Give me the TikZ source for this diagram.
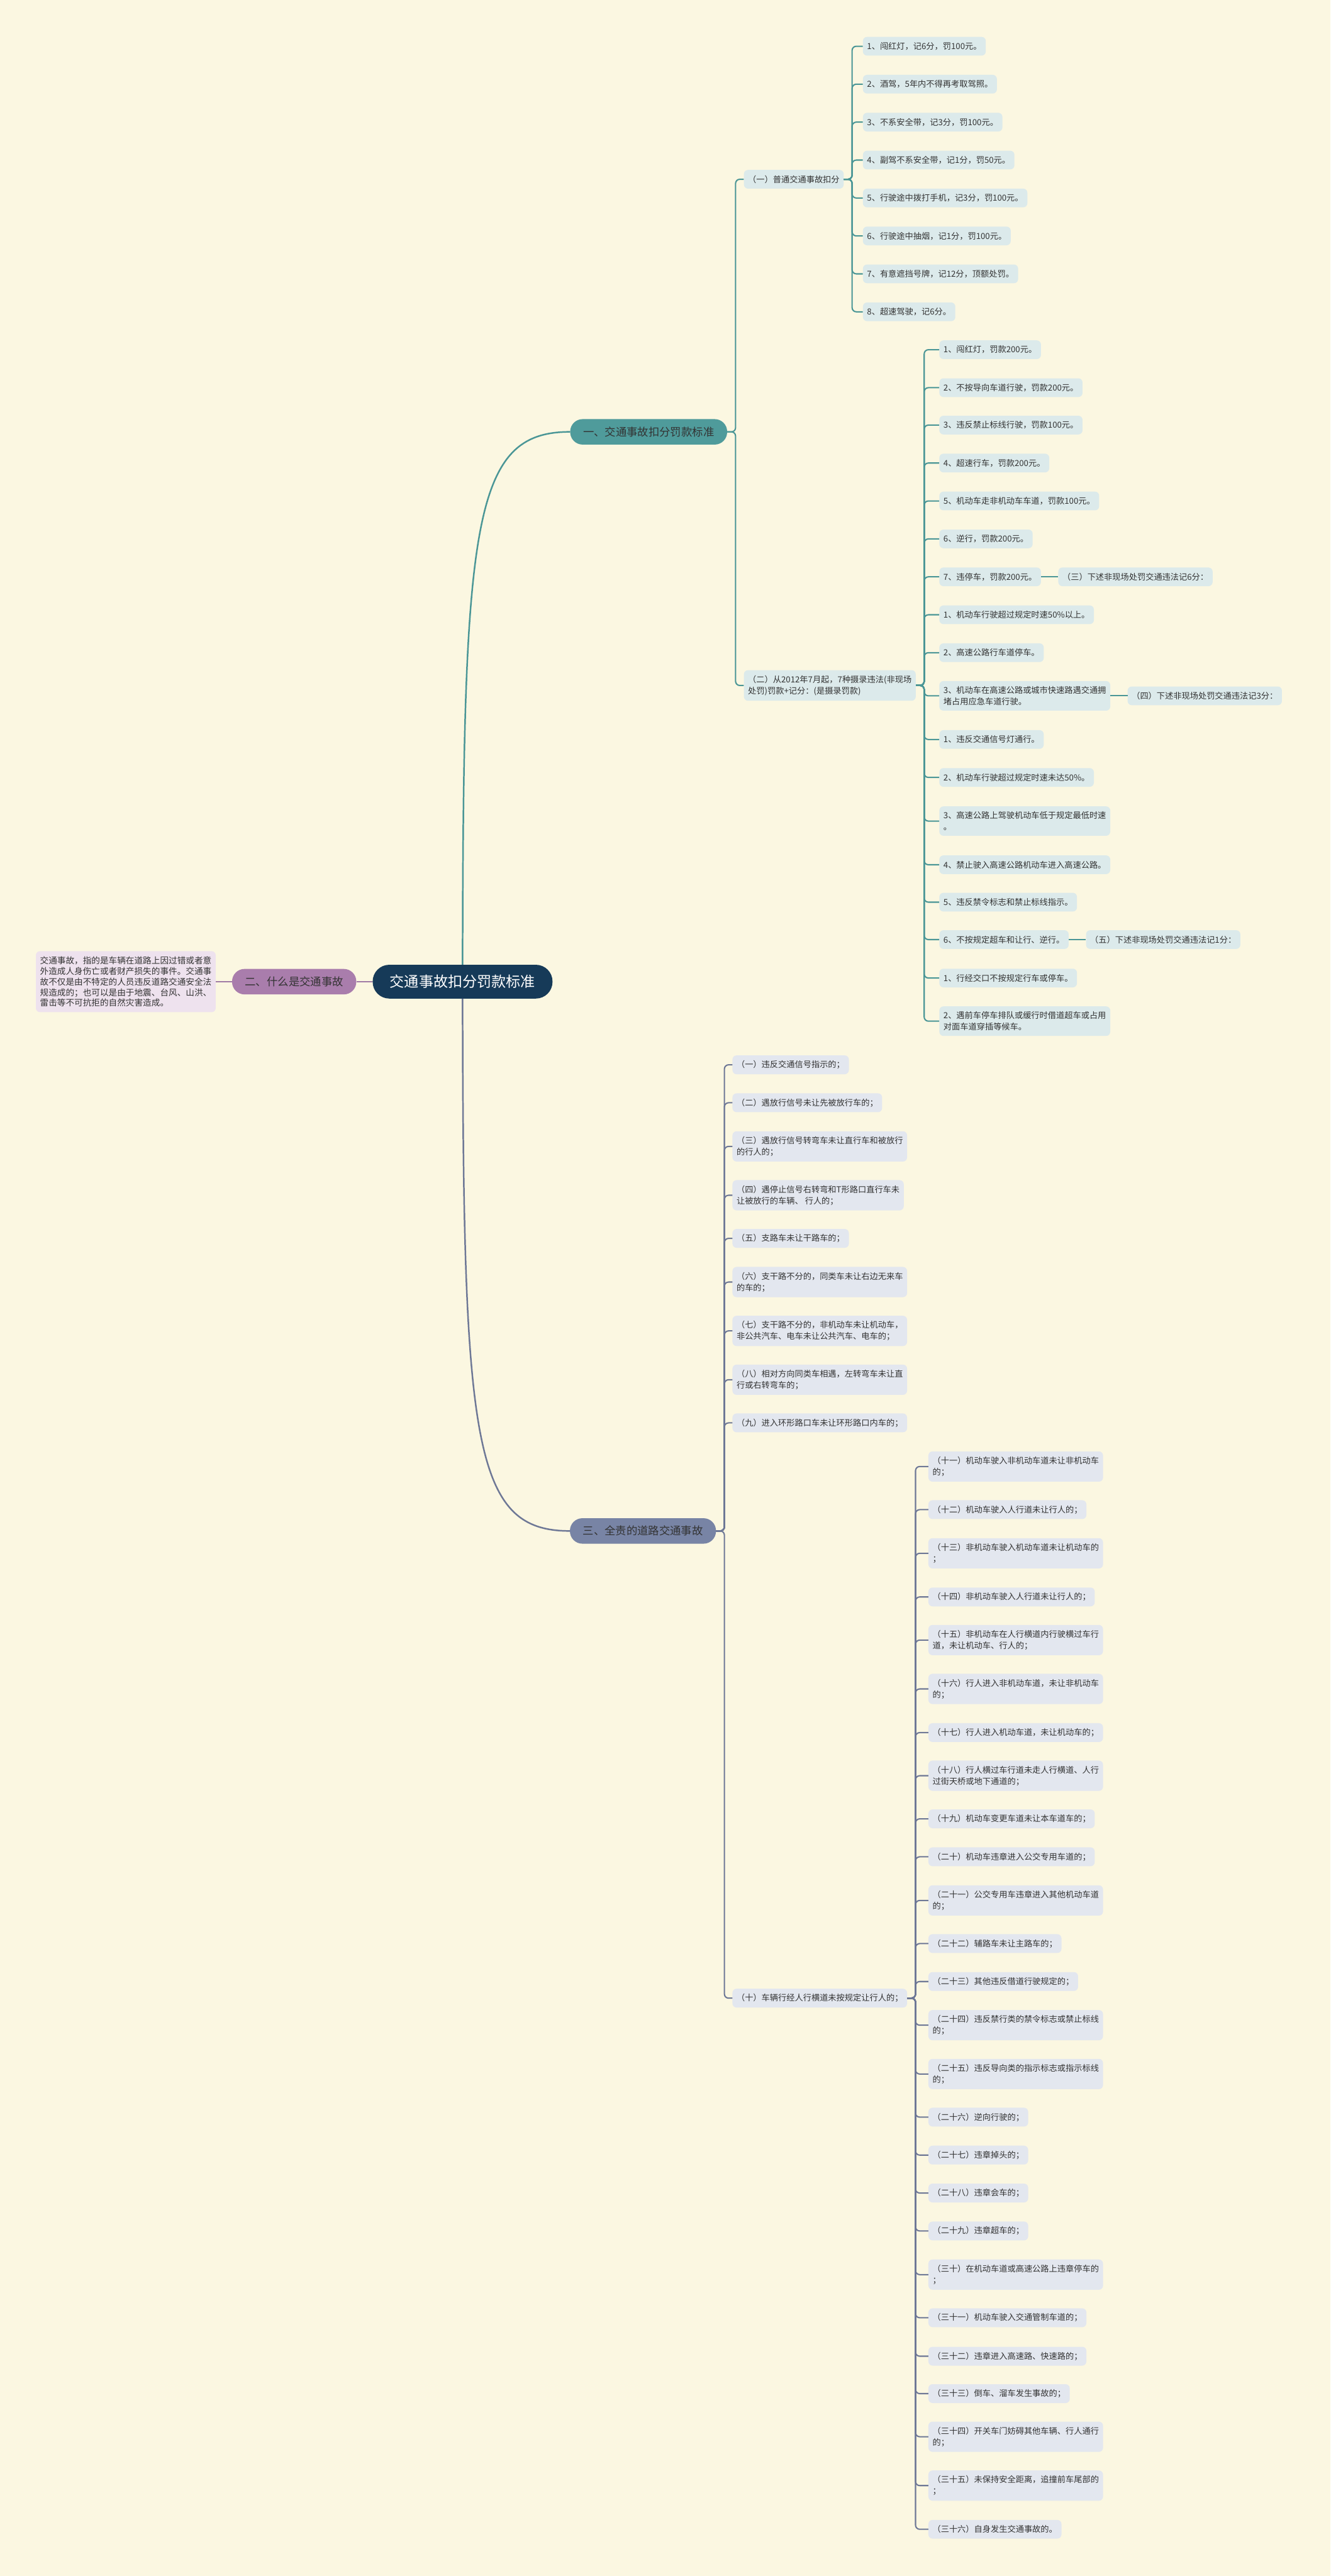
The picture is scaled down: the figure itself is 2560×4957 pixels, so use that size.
\documentclass[tikz,border=0pt]{standalone}
\usepackage{fontspec}
\setmainfont{Noto Sans CJK SC}
\usetikzlibrary{positioning}

\definecolor{bgcream}{HTML}{FBF7E1}
\definecolor{rootblue}{HTML}{163A58}
\definecolor{tealfill}{HTML}{4F9B9B}
\definecolor{tealline}{HTML}{4A9696}
\definecolor{leafteal}{HTML}{DCEAEB}
\definecolor{purplefill}{HTML}{A97DAC}
\definecolor{purpleline}{HTML}{A07AA5}
\definecolor{notepink}{HTML}{EEE2EE}
\definecolor{slatefill}{HTML}{7884A5}
\definecolor{slateline}{HTML}{6E7896}
\definecolor{leafslate}{HTML}{E3E7EF}
\definecolor{textgray}{HTML}{333333}

\tikzset{
  rootbox/.style={fill=rootblue, text=white, rounded corners=32pt, inner xsep=33pt, minimum height=65pt, font=\fontsize{28}{32}\selectfont},
  branchbox/.style={rounded corners=24pt, inner xsep=25pt, minimum height=49pt, text=textgray, font=\fontsize{21}{25}\selectfont},
  leafbox/.style={rounded corners=8pt, inner xsep=8pt, inner ysep=10pt, minimum height=36pt, text=textgray, align=left, font=\fontsize{16}{22}\selectfont},
  leafA/.style={leafbox, fill=leafteal, anchor=west},
  leafC/.style={leafbox, fill=leafslate, anchor=west},
  notebox/.style={leafbox, fill=notepink, font=\fontsize{16.5}{20.5}\selectfont},
  mainA/.style={draw=tealline, line width=3pt},
  mainB/.style={draw=purpleline, line width=3pt},
  mainC/.style={draw=slateline, line width=3pt},
  lineA/.style={draw=tealline, line width=2.5pt, rounded corners=8pt},
  lineC/.style={draw=slateline, line width=2.5pt, rounded corners=8pt}
}

\begin{document}
\begin{tikzpicture}[x=1pt, y=-1pt]
	% Fondo
	\fill[bgcream] (0,0) rectangle (2560,4957);
	\useasboundingbox (0,0) rectangle (2560,4957);
	
	% Nodo raiz y ramas principales
	\node[rootbox] (root) at (890,1889) {交通事故扣分罚款标准};
	\node[branchbox, fill=tealfill] (yi) at (1248,831) {一、交通事故扣分罚款标准};
	\node[branchbox, fill=purplefill] (er) at (566,1889) {二、什么是交通事故};
	\node[branchbox, fill=slatefill] (san) at (1237,2946) {三、全责的道路交通事故};
	\node[notebox] (note) at (242,1889) {交通事故，指的是车辆在道路上因过错或者意\\外造成人身伤亡或者财产损失的事件。交通事\\故不仅是由不特定的人员违反道路交通安全法\\规造成的；也可以是由于地震、台风、山洪、\\雷击等不可抗拒的自然灾害造成。};
	
	\draw[mainA] (root.north) .. controls (891,1000) and (910,831) .. (yi.west);
	\draw[mainC] (root.south) .. controls (891,2780) and (910,2946) .. (san.west);
	\draw[mainB] (root.west) -- (er.east);
	\draw[mainB] (er.west) -- (note.east);
	
	% Rama uno
	\node[leafA] (yiA) at (1431,345) {（一）普通交通事故扣分};
	\node[leafA] (yiB) at (1431,1319) {（二）从2012年7月起，7种摄录违法(非现场\\处罚)罚款+记分：(是摄录罚款)};
	
	\node[leafA] (a1) at (1660,89) {1、闯红灯，记6分，罚100元。};
	\node[leafA] (a2) at (1660,162) {2、酒驾，5年内不得再考取驾照。};
	\node[leafA] (a3) at (1660,235) {3、不系安全带，记3分，罚100元。};
	\node[leafA] (a4) at (1660,308) {4、副驾不系安全带，记1分，罚50元。};
	\node[leafA] (a5) at (1660,381) {5、行驶途中拨打手机，记3分，罚100元。};
	\node[leafA] (a6) at (1660,454) {6、行驶途中抽烟，记1分，罚100元。};
	\node[leafA] (a7) at (1660,527) {7、有意遮挡号牌，记12分，顶额处罚。};
	\node[leafA] (a8) at (1660,600) {8、超速驾驶，记6分。};
	
	\node[leafA] (b1) at (1807,673) {1、闯红灯，罚款200元。};
	\node[leafA] (b2) at (1807,746) {2、不按导向车道行驶，罚款200元。};
	\node[leafA] (b3) at (1807,818) {3、违反禁止标线行驶，罚款100元。};
	\node[leafA] (b4) at (1807,891) {4、超速行车，罚款200元。};
	\node[leafA] (b5) at (1807,964) {5、机动车走非机动车车道，罚款100元。};
	\node[leafA] (b6) at (1807,1037) {6、逆行，罚款200元。};
	\node[leafA] (b7) at (1807,1110) {7、违停车，罚款200元。};
	\node[leafA] (b8) at (1807,1183) {1、机动车行驶超过规定时速50\%以上。};
	\node[leafA] (b9) at (1807,1256) {2、高速公路行车道停车。};
	\node[leafA] (b10) at (1807,1339) {3、机动车在高速公路或城市快速路遇交通拥\\堵占用应急车道行驶。};
	\node[leafA] (b11) at (1807,1423) {1、违反交通信号灯通行。};
	\node[leafA] (b12) at (1807,1496) {2、机动车行驶超过规定时速未达50\%。};
	\node[leafA] (b13) at (1807,1580) {3、高速公路上驾驶机动车低于规定最低时速\\。};
	\node[leafA] (b14) at (1807,1664) {4、禁止驶入高速公路机动车进入高速公路。};
	\node[leafA] (b15) at (1807,1736) {5、违反禁令标志和禁止标线指示。};
	\node[leafA] (b16) at (1807,1808) {6、不按规定超车和让行、逆行。};
	\node[leafA] (b17) at (1807,1882) {1、行经交口不按规定行车或停车。};
	\node[leafA] (b18) at (1807,1965) {2、遇前车停车排队或缓行时借道超车或占用\\对面车道穿插等候车。};
	
	\node[leafA, right=33pt of b7] (bx3) {（三）下述非现场处罚交通违法记6分：};
	\node[leafA, right=33pt of b10] (bx4) {（四）下述非现场处罚交通违法记3分：};
	\node[leafA, right=33pt of b16] (bx5) {（五）下述非现场处罚交通违法记1分：};
	
	\foreach \c in {yiA,yiB} \draw[lineA] (yi.east) -- ++(16,0) |- (\c.west);
	\foreach \c in {a1,a2,a3,a4,a5,a6,a7,a8} \draw[lineA] (yiA.east) -- ++(16,0) |- (\c.west);
	\foreach \c in {b1,b2,b3,b4,b5,b6,b7,b8,b9,b10,b11,b12,b13,b14,b15,b16,b17,b18} \draw[lineA] (yiB.east) -- ++(16,0) |- (\c.west);
	\draw[lineA] (b7.east) -- (bx3.west);
	\draw[lineA] (b10.east) -- (bx4.west);
	\draw[lineA] (b16.east) -- (bx5.west);
	
	% Rama tres
	\node[leafC] (s1) at (1409,2049) {（一）违反交通信号指示的；};
	\node[leafC] (s2) at (1409,2122) {（二）遇放行信号未让先被放行车的；};
	\node[leafC] (s3) at (1409,2206) {（三）遇放行信号转弯车未让直行车和被放行\\的行人的；};
	\node[leafC] (s4) at (1409,2300) {（四）遇停止信号右转弯和T形路口直行车未\\让被放行的车辆、 行人的；};
	\node[leafC] (s5) at (1409,2383) {（五）支路车未让干路车的；};
	\node[leafC] (s6) at (1409,2467) {（六）支干路不分的，同类车未让右边无来车\\的车的；};
	\node[leafC] (s7) at (1409,2561) {（七）支干路不分的，非机动车未让机动车，\\非公共汽车、电车未让公共汽车、电车的；};
	\node[leafC] (s8) at (1409,2655) {（八）相对方向同类车相遇，左转弯车未让直\\行或右转弯车的；};
	\node[leafC] (s9) at (1409,2738) {（九）进入环形路口车未让环形路口内车的；};
	\node[leafC] (s10) at (1409,3845) {（十）车辆行经人行横道未按规定让行人的；};
	
	\node[leafC] (t11) at (1786,2822) {（十一）机动车驶入非机动车道未让非机动车\\的；};
	\node[leafC] (t12) at (1786,2905) {（十二）机动车驶入人行道未让行人的；};
	\node[leafC] (t13) at (1786,2989) {（十三）非机动车驶入机动车道未让机动车的\\；};
	\node[leafC] (t14) at (1786,3073) {（十四）非机动车驶入人行道未让行人的；};
	\node[leafC] (t15) at (1786,3156) {（十五）非机动车在人行横道内行驶横过车行\\道，未让机动车、行人的；};
	\node[leafC] (t16) at (1786,3250) {（十六）行人进入非机动车道，未让非机动车\\的；};
	\node[leafC] (t17) at (1786,3334) {（十七）行人进入机动车道，未让机动车的；};
	\node[leafC] (t18) at (1786,3417) {（十八）行人横过车行道未走人行横道、人行\\过街天桥或地下通道的；};
	\node[leafC] (t19) at (1786,3500) {（十九）机动车变更车道未让本车道车的；};
	\node[leafC] (t20) at (1786,3573) {（二十）机动车违章进入公交专用车道的；};
	\node[leafC] (t21) at (1786,3657) {（二十一）公交专用车违章进入其他机动车道\\的；};
	\node[leafC] (t22) at (1786,3740) {（二十二）辅路车未让主路车的；};
	\node[leafC] (t23) at (1786,3813) {（二十三）其他违反借道行驶规定的；};
	\node[leafC] (t24) at (1786,3897) {（二十四）违反禁行类的禁令标志或禁止标线\\的；};
	\node[leafC] (t25) at (1786,3991) {（二十五）违反导向类的指示标志或指示标线\\的；};
	\node[leafC] (t26) at (1786,4074) {（二十六）逆向行驶的；};
	\node[leafC] (t27) at (1786,4147) {（二十七）违章掉头的；};
	\node[leafC] (t28) at (1786,4220) {（二十八）违章会车的；};
	\node[leafC] (t29) at (1786,4293) {（二十九）违章超车的；};
	\node[leafC] (t30) at (1786,4377) {（三十）在机动车道或高速公路上违章停车的\\；};
	\node[leafC] (t31) at (1786,4460) {（三十一）机动车驶入交通管制车道的；};
	\node[leafC] (t32) at (1786,4534) {（三十二）违章进入高速路、快速路的；};
	\node[leafC] (t33) at (1786,4606) {（三十三）倒车、溜车发生事故的；};
	\node[leafC] (t34) at (1786,4689) {（三十四）开关车门妨碍其他车辆、行人通行\\的；};
	\node[leafC] (t35) at (1786,4783) {（三十五）未保持安全距离，追撞前车尾部的\\；};
	\node[leafC] (t36) at (1786,4867) {（三十六）自身发生交通事故的。};
	
	\foreach \c in {s1,s2,s3,s4,s5,s6,s7,s8,s9,s10} \draw[lineC] (san.east) -- ++(16,0) |- (\c.west);
	\foreach \n in {11,...,36} \draw[lineC] (s10.east) -- ++(16,0) |- (t\n.west);
	
\end{tikzpicture}
\end{document}
